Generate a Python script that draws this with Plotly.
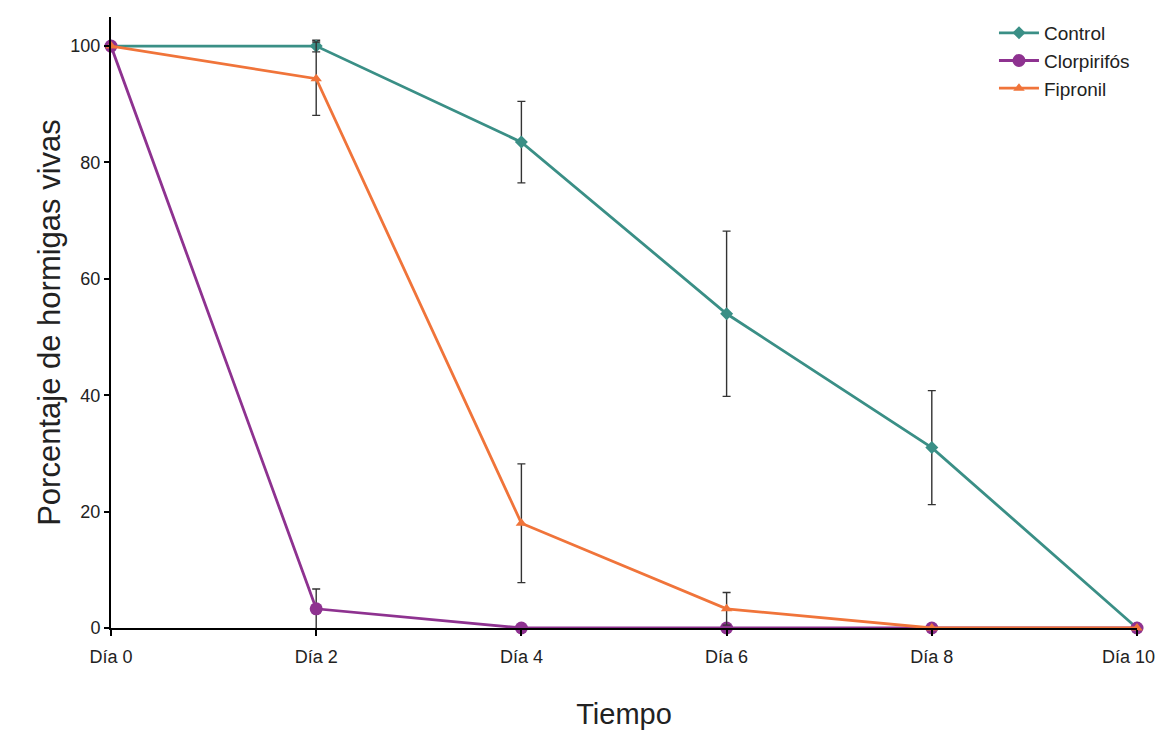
import plotly.graph_objects as go

dias = [0, 2, 4, 6, 8, 10]
tick_labels = ["Día 0", "Día 2", "Día 4", "Día 6", "Día 8", "Día 10"]

control = [100, 100, 83.5, 54, 31, 0]
control_err = [0, 1, 7, 14.2, 9.8, 0]

clorpirifos = [100, 3.3, 0, 0, 0, 0]
clorpirifos_err = [0, 3.4, 0, 0, 0, 0]

fipronil = [100, 94.4, 18, 3.3, 0, 0]
fipronil_err = [0, 6.3, 10.2, 2.8, 0, 0]

err_style = dict(type="data", visible=True, color="#333333", thickness=1.4, width=4)

fig = go.Figure()
fig.add_trace(go.Scatter(
    x=dias, y=control, name="Control", mode="lines+markers",
    line=dict(color="#3a8f86", width=2.8),
    marker=dict(symbol="diamond", size=10, color="#3a8f86"),
    error_y=dict(array=control_err, **err_style),
    cliponaxis=False, legendgroup="a"))
fig.add_trace(go.Scatter(
    x=dias, y=clorpirifos, name="Clorpirifós", mode="lines+markers",
    line=dict(color="#8e3290", width=2.8),
    marker=dict(symbol="circle", size=13, color="#8e3290"),
    error_y=dict(array=clorpirifos_err, **err_style),
    cliponaxis=False, legendgroup="b"))
fig.add_trace(go.Scatter(
    x=dias, y=fipronil, name="Fipronil", mode="lines+markers",
    line=dict(color="#f0743a", width=2.8),
    marker=dict(symbol="triangle-up", size=10, color="#f0743a"),
    error_y=dict(array=fipronil_err, **err_style),
    cliponaxis=False, legendgroup="c"))

# last tick label drawn as an annotation so it is not dropped at the page edge
axis_ticktext = tick_labels[:-1] + [""]
fig.add_annotation(x=dias[-1], y=0, xref="x", yref="y", text=tick_labels[-1],
                   showarrow=False, xanchor="center", yanchor="top",
                   xshift=-9, yshift=-17, font=dict(size=18))

fig.update_layout(
    width=1150, height=722,
    margin=dict(l=103, r=21, t=6, b=102),
    paper_bgcolor="white", plot_bgcolor="white",
    font=dict(family="Liberation Sans, Arial, sans-serif", color="#222222", size=18),
    showlegend=True,
    legend=dict(x=0.8606, y=1.005, xanchor="left", yanchor="top", itemwidth=40,
                font=dict(size=19), tracegroupgap=0, bgcolor="rgba(0,0,0,0)"),
    xaxis=dict(
        range=[0, 10], tickmode="array", tickvals=dias, ticktext=axis_ticktext,
        showline=True, linecolor="black", linewidth=2, showgrid=False, zeroline=False,
        ticks="outside", ticklen=6, tickwidth=2, tickcolor="black",
        tickfont=dict(size=18), ticklabelstandoff=5, automargin=False,
        title=dict(text="Tiempo", font=dict(size=29), standoff=46),
    ),
    yaxis=dict(
        range=[0, 105], tickvals=[0, 20, 40, 60, 80, 100],
        showline=True, linecolor="black", linewidth=2, showgrid=False, zeroline=False,
        ticks="outside", ticklen=5, tickwidth=2, tickcolor="black",
        tickfont=dict(size=18), automargin=True,
        title=dict(text="Porcentaje de hormigas vivas", font=dict(size=31), standoff=1),
    ),
)

fig.write_html("out.html")
